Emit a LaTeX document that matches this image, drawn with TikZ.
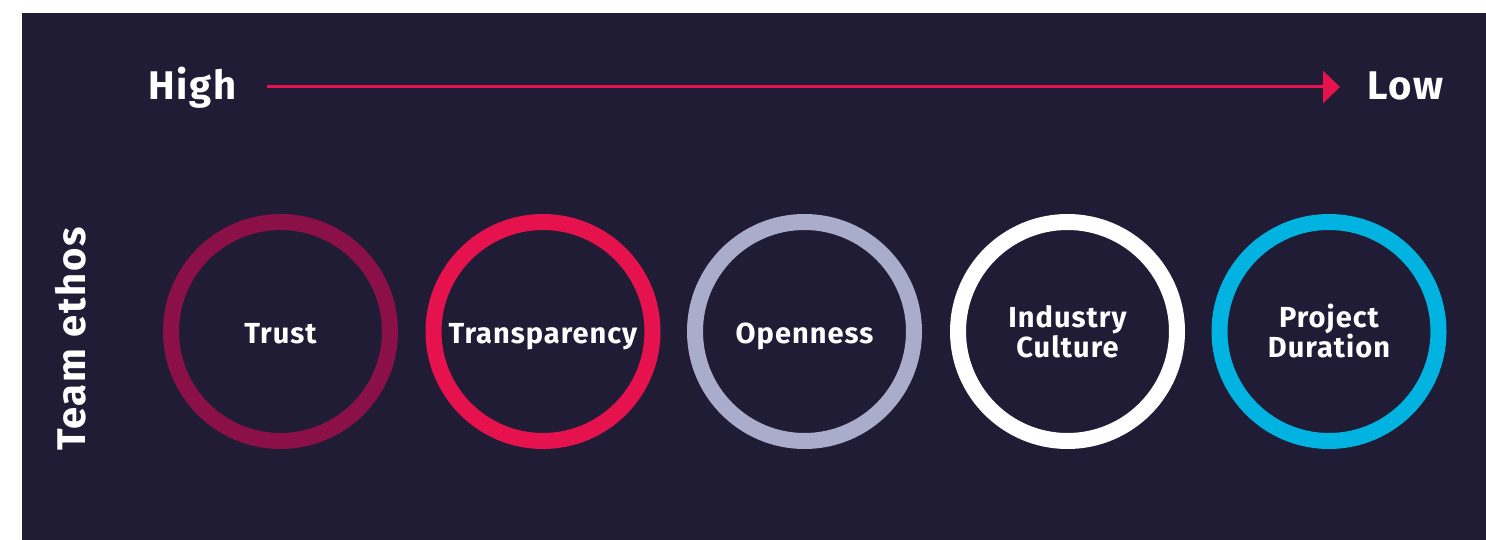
\documentclass[tikz,border=0pt]{standalone}
\usepackage{fontspec}
\setmainfont{Fira Sans}
\newfontfamily\lblfont[LetterSpace=3.5]{Fira Sans}
\newfontfamily\bigfont[LetterSpace=4.5]{Fira Sans}
\usetikzlibrary{arrows.meta}
\definecolor{bgdark}{HTML}{211C36}
\definecolor{ctrust}{HTML}{8B1047}
\definecolor{ctransp}{HTML}{E5124D}
\definecolor{copen}{HTML}{A9ACCB}
\definecolor{cproj}{HTML}{00B3E0}
\tikzset{
  ring/.style={draw=#1, line width=16pt, circle, minimum size=219pt, inner sep=0pt},
  lbl/.style={text=white, font=\lblfont\fontsize{29}{31}\selectfont\bfseries, inner sep=0pt, align=center},
  big/.style={text=white, font=\bigfont\fontsize{40}{42}\selectfont\bfseries, inner sep=0pt},
  scalearrow/.style={draw=ctransp, line width=3pt, -{Triangle[length=17pt,width=32pt]}}
}
\begin{document}
\begin{tikzpicture}[x=1pt,y=-1pt]
\useasboundingbox (0,0) rectangle (1486,540);
\fill[white] (0,0) rectangle (1486,540);
\fill[bgdark] (22,13) rectangle (1486,540);
% scale
\node[big, anchor=base west] (high) at (148,100) {High};
\node[big, anchor=base east] (low) at (1444,100) {Low};
\coordinate (astart) at (267,87);
\coordinate (aend) at (1340,87);
\draw[scalearrow] (astart) -- (aend);
% side label
\node[big, rotate=90, anchor=base] (ethos) at (85,339) {Team ethos};
% rings
\node[ring=ctrust] (c1) at (280.5,331.5) {};
\node[ring=ctransp] (c2) at (543,331.5) {};
\node[ring=copen] (c3) at (804.5,331.5) {};
\node[ring=white] (c4) at (1067.5,331.5) {};
\node[ring=cproj] (c5) at (1329,331.5) {};
\node[lbl, anchor=base] (t1) at (280.5,343) {Trust};
\node[lbl, anchor=base] (t2) at (543,343) {Transparency};
\node[lbl, anchor=base] (t3) at (804.5,343) {Openness};
\node[lbl, anchor=base] (t4a) at (1067.5,327) {Industry};
\node[lbl, anchor=base] (t4b) at (1067.5,357) {Culture};
\node[lbl, anchor=base] (t5a) at (1329,327) {Project};
\node[lbl, anchor=base] (t5b) at (1329,357) {Duration};
\end{tikzpicture}
\end{document}
